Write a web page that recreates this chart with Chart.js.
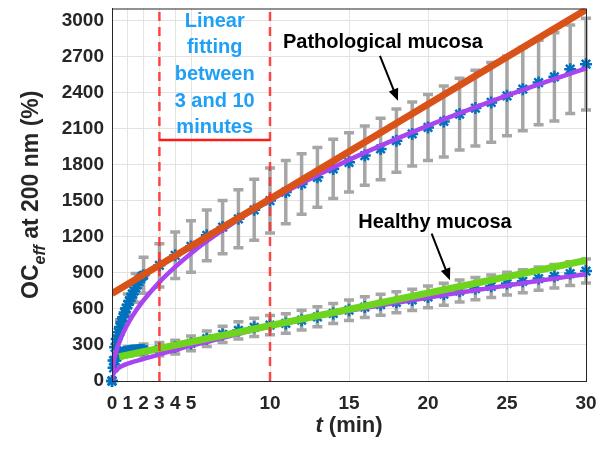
<!DOCTYPE html>
<html>
<head>
<meta charset="utf-8">
<script src="https://cdn.jsdelivr.net/npm/chart.js@4.4.1/dist/chart.umd.min.js"></script>
<style>
  html, body { margin: 0; padding: 0; background: #fff; }
  #wrap { width: 604px; height: 451px; }
</style>
</head>
<body>
<div id="wrap"><canvas id="oc-chart" width="604" height="451"></canvas></div>
<script>
// measurement times (min), dense sampling in the first 2 minutes
const times = [0, 0.1, 0.2, 0.3, 0.4, 0.5, 0.6, 0.7, 0.8, 0.9, 1.0, 1.1, 1.2, 1.3, 1.4, 1.5, 1.6, 1.7, 1.8, 1.9, 2.0,
    3, 4, 5, 6, 7, 8, 9, 10, 11, 12, 13, 14, 15, 16, 17, 18, 19, 20, 21, 22, 23, 24, 25, 26, 27, 28, 29, 30];

const pathMean = [0, 170, 280, 350, 405, 450, 490, 530, 570, 605, 635, 665, 695, 725, 750, 775, 800, 825, 850, 870, 880,
    963, 1046, 1120, 1212, 1281, 1350, 1425, 1502, 1572, 1640, 1695, 1765, 1820, 1876, 1931, 2000, 2056, 2110,
    2160, 2221, 2271, 2318, 2373, 2429, 2484, 2531, 2595, 2637];
const pathErr = [0, 0, 0, 0, 0, 60, 0, 0, 0, 0, 90, 0, 0, 0, 0, 120, 0, 0, 0, 0, 150,
    180, 194, 214, 212, 221, 242, 253, 270, 263, 252, 249, 246, 247, 247, 256, 263, 266, 275,
    296, 299, 315, 332, 332, 346, 352, 368, 368, 382];

const healthMean = [0, 110, 170, 200, 215, 225, 232, 237, 241, 244, 247, 249, 251, 253, 254, 255, 256, 257, 258, 259, 260,
    265, 282, 313, 352, 388, 422, 447, 465, 479, 506, 534, 562, 589, 615, 635, 655, 675, 700,
    722, 749, 769, 788, 811, 830, 852, 871, 894, 915];
const healthErr = [0, 0, 0, 0, 0, 0, 0, 0, 0, 0, 40, 0, 0, 0, 0, 0, 0, 0, 0, 0, 48,
    55, 58, 62, 65, 68, 72, 76, 80, 81, 82, 83, 84, 85, 86, 87, 88, 89, 90,
    91, 92, 93, 94, 95, 96, 97, 98, 99, 100];

// non-linear fit curves (purple)
const fitTimes = [0, 0.02, 0.05, 0.1, 0.2, 0.35, 0.5, 0.75, 1, 1.5, 2, 3, 4, 5, 6, 8, 10, 12, 15, 18, 21, 24, 27, 30];
const pathFit = [0, 67, 106, 150, 212, 281, 336, 411, 475, 582, 672, 823, 950, 1062, 1163, 1343, 1502, 1645, 1840, 2015, 2177, 2327, 2468, 2602];
const healthFit = [0, 25, 45, 62, 82, 100, 115, 132, 145, 165, 185, 222, 258, 295, 325, 392, 456, 510, 585, 650, 715, 775, 835, 888];

// linear fits between 3 and 10 minutes, extended
const pathLineT = [0, 30];
const pathLineV = [728, 3090];
const healthLineT = [0.45, 30];
const healthLineV = [202, 1004];

const xTicks = [0, 1, 2, 3, 4, 5, 10, 15, 20, 25, 30];
const yTicks = [0, 300, 600, 900, 1200, 1500, 1800, 2100, 2400, 2700, 3000];

const FONT = '"Liberation Sans", Arial, Helvetica, sans-serif';
const AXIS_COLOR = '#262626';

function toPoints(xs, ys) {
    return xs.map((t, i) => ({x: t, y: ys[i]}));
}

const errorBars = {
    id: 'errorBars',
    beforeDatasetsDraw(chart) {
        const {ctx, scales: {x, y}} = chart;
        ctx.save();
        ctx.strokeStyle = '#a6a6a6';
        ctx.lineWidth = 3.5;
        [[pathMean, pathErr], [healthMean, healthErr]].forEach(([mean, err]) => {
            for (let i = 0; i < times.length; i++) {
                if (!err[i]) continue;
                const px = x.getPixelForValue(times[i]);
                const top = y.getPixelForValue(mean[i] + err[i]);
                const bot = y.getPixelForValue(mean[i] - err[i]);
                ctx.beginPath();
                ctx.moveTo(px, top);
                ctx.lineTo(px, bot);
                ctx.moveTo(px - 5, top);
                ctx.lineTo(px + 5, top);
                ctx.moveTo(px - 5, bot);
                ctx.lineTo(px + 5, bot);
                ctx.stroke();
            }
        });
        ctx.restore();
    }
};

function arrow(ctx, x1, y1, x2, y2) {
    const a = Math.atan2(y2 - y1, x2 - x1);
    ctx.beginPath();
    ctx.moveTo(x1, y1);
    ctx.lineTo(x2 - 8 * Math.cos(a), y2 - 8 * Math.sin(a));
    ctx.stroke();
    ctx.beginPath();
    ctx.moveTo(x2, y2);
    ctx.lineTo(x2 - 12 * Math.cos(a) + 5 * Math.sin(a), y2 - 12 * Math.sin(a) - 5 * Math.cos(a));
    ctx.lineTo(x2 - 12 * Math.cos(a) - 5 * Math.sin(a), y2 - 12 * Math.sin(a) + 5 * Math.cos(a));
    ctx.closePath();
    ctx.fill();
}

const decorations = {
    id: 'decorations',
    afterDatasetsDraw(chart) {
        const {ctx, chartArea: area, scales: {x, y}} = chart;
        ctx.save();

        // fitting window markers
        ctx.strokeStyle = 'rgba(255, 40, 40, 0.85)';
        ctx.lineWidth = 2.5;
        ctx.setLineDash([9, 6]);
        [3, 10].forEach(t => {
            const px = x.getPixelForValue(t);
            ctx.beginPath();
            ctx.moveTo(px, area.bottom);
            ctx.lineTo(px, area.top);
            ctx.stroke();
        });
        ctx.setLineDash([]);
        ctx.strokeStyle = '#ff1a1a';
        ctx.lineWidth = 2.5;
        ctx.beginPath();
        ctx.moveTo(x.getPixelForValue(3), y.getPixelForValue(2006));
        ctx.lineTo(x.getPixelForValue(10), y.getPixelForValue(2006));
        ctx.stroke();

        ctx.fillStyle = '#1fa0f5';
        ctx.font = 'bold 20px ' + FONT;
        ctx.textAlign = 'center';
        ctx.textBaseline = 'middle';
        const cx = x.getPixelForValue(6.5);
        ['Linear', 'fitting', 'between', '3 and 10', 'minutes'].forEach((line, i) => {
            ctx.fillText(line, cx, 21 + i * 26.7);
        });

        ctx.fillStyle = '#000';
        ctx.strokeStyle = '#000';
        ctx.lineWidth = 2;
        ctx.fillText('Pathological mucosa', x.getPixelForValue(17.15), y.getPixelForValue(2816));
        ctx.fillText('Healthy mucosa', x.getPixelForValue(20.44), y.getPixelForValue(1322));
        arrow(ctx, x.getPixelForValue(16.96), y.getPixelForValue(2705), x.getPixelForValue(18.1), y.getPixelForValue(2332));
        arrow(ctx, x.getPixelForValue(20.23), y.getPixelForValue(1226), x.getPixelForValue(21.39), y.getPixelForValue(838));
        ctx.restore();
    },
    afterDraw(chart) {
        const {ctx, chartArea: area} = chart;
        ctx.save();
        ctx.strokeStyle = AXIS_COLOR;
        ctx.lineWidth = 1;
        ctx.strokeRect(area.left + 0.5, area.top + 0.5, area.right - area.left, area.bottom - area.top);

        ctx.fillStyle = AXIS_COLOR;
        ctx.textBaseline = 'alphabetic';
        ctx.textAlign = 'left';

        // x title: italic t
        const midX = (area.left + area.right) / 2;
        ctx.font = 'italic bold 22px ' + FONT;
        const wT = ctx.measureText('t').width;
        ctx.font = 'bold 22px ' + FONT;
        const wRest = ctx.measureText(' (min)').width;
        let sx = midX - (wT + wRest) / 2;
        ctx.font = 'italic bold 22px ' + FONT;
        ctx.fillText('t', sx, 432);
        ctx.font = 'bold 22px ' + FONT;
        ctx.fillText(' (min)', sx + wT, 432);

        // y title with subscript
        const midY = (area.top + area.bottom) / 2;
        ctx.translate(38, midY);
        ctx.rotate(-Math.PI / 2);
        ctx.font = 'bold 23px ' + FONT;
        const w1 = ctx.measureText('OC').width;
        const w3 = ctx.measureText(' at 200 nm (%)').width;
        ctx.font = 'italic bold 16px ' + FONT;
        const w2 = ctx.measureText('eff').width;
        let s = -(w1 + w2 + w3) / 2;
        ctx.font = 'bold 23px ' + FONT;
        ctx.fillText('OC', s, 0);
        ctx.font = 'italic bold 16px ' + FONT;
        ctx.fillText('eff', s + w1, 7);
        ctx.font = 'bold 23px ' + FONT;
        ctx.fillText(' at 200 nm (%)', s + w1 + w2, 0);
        ctx.restore();
    }
};

const ctx = document.getElementById('oc-chart').getContext('2d');
const chart = new Chart(ctx, {
    type: 'scatter',
    data: {
        datasets: [
            {
                label: 'Pathological linear fit',
                data: toPoints(pathLineT, pathLineV),
                showLine: true,
                borderColor: '#d95319',
                borderWidth: 7,
                pointRadius: 0
            },
            {
                label: 'Healthy linear fit',
                data: toPoints(healthLineT, healthLineV),
                showLine: true,
                borderColor: '#6fd41e',
                borderWidth: 7,
                pointRadius: 0
            },
            {
                label: 'Pathological fit',
                data: toPoints(fitTimes, pathFit),
                showLine: true,
                cubicInterpolationMode: 'monotone',
                borderColor: '#a845f0',
                borderWidth: 4.5,
                pointRadius: 0
            },
            {
                label: 'Healthy fit',
                data: toPoints(fitTimes, healthFit),
                showLine: true,
                cubicInterpolationMode: 'monotone',
                borderColor: '#a845f0',
                borderWidth: 4.5,
                pointRadius: 0
            },
            {
                label: 'Pathological mucosa',
                data: toPoints(times, pathMean),
                pointStyle: 'star',
                pointRadius: 6,
                borderWidth: 2.5,
                borderColor: '#0072bd',
                backgroundColor: '#0072bd',
                clip: false
            },
            {
                label: 'Healthy mucosa',
                data: toPoints(times, healthMean),
                pointStyle: 'star',
                pointRadius: 6,
                borderWidth: 2.5,
                borderColor: '#0072bd',
                backgroundColor: '#0072bd',
                clip: false
            }
        ]
    },
    options: {
        responsive: false,
        animation: false,
        events: [],
        layout: {padding: {top: 7, right: 18, left: 0, bottom: 0}},
        plugins: {
            legend: {display: false},
            tooltip: {enabled: false}
        },
        scales: {
            x: {
                type: 'linear',
                min: 0,
                max: 30,
                afterBuildTicks: scale => { scale.ticks = xTicks.map(v => ({value: v})); },
                afterFit: scale => {
                    scale.height = 70;
                    scale.paddingLeft = 0;
                    scale.paddingRight = 0;
                },
                grid: {color: '#e3e3e3', drawTicks: false},
                border: {color: AXIS_COLOR},
                ticks: {
                    autoSkip: false,
                    maxRotation: 0,
                    padding: 11,
                    color: AXIS_COLOR,
                    font: {family: FONT, size: 19, weight: 'bold'},
                    callback: v => String(v)
                }
            },
            y: {
                type: 'linear',
                min: 0,
                max: 3100,
                afterBuildTicks: scale => { scale.ticks = yTicks.map(v => ({value: v})); },
                afterFit: scale => {
                    scale.width = 112;
                    scale.paddingTop = 0;
                    scale.paddingBottom = 0;
                },
                grid: {color: '#e3e3e3', drawTicks: false},
                border: {color: AXIS_COLOR},
                ticks: {
                    padding: 8,
                    color: AXIS_COLOR,
                    font: {family: FONT, size: 19, weight: 'bold'},
                    callback: v => String(v)
                }
            }
        }
    },
    plugins: [errorBars, decorations]
});
</script>
</body>
</html>
